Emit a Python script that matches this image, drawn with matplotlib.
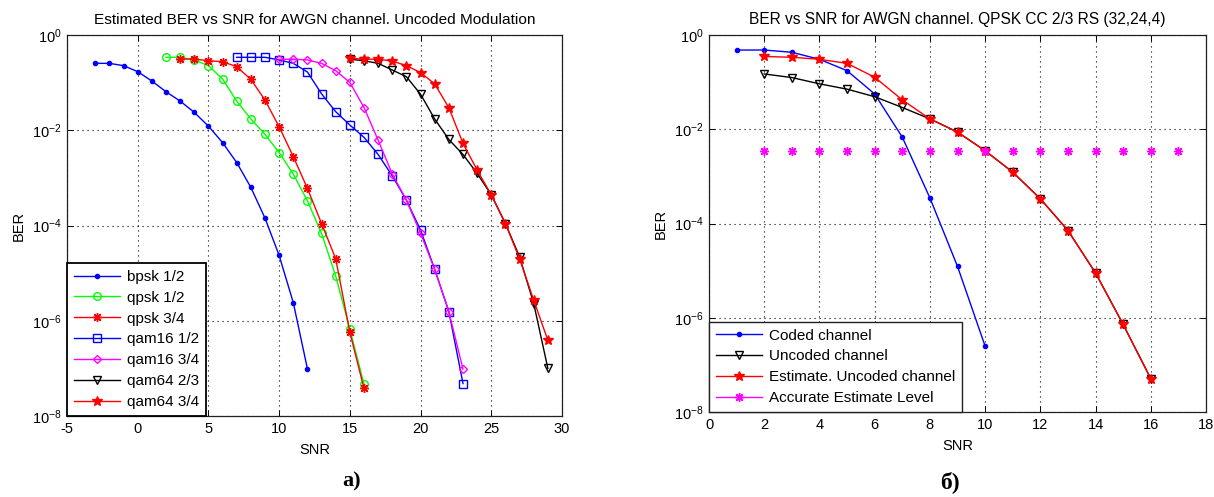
import numpy as np
import matplotlib
matplotlib.use('Agg')
import matplotlib.pyplot as plt
from matplotlib.lines import Line2D
from matplotlib.ticker import FixedLocator, FuncFormatter, NullLocator

plt.rcParams['font.family'] = ['Liberation Sans', 'DejaVu Sans']
plt.rcParams['mathtext.fontset'] = 'custom'
plt.rcParams['mathtext.rm'] = 'Liberation Sans'
plt.rcParams['mathtext.it'] = 'Liberation Sans'
plt.rcParams['mathtext.default'] = 'regular'
plt.rcParams['axes.unicode_minus'] = False

# ---- panel a): uncoded modulation ----
snr_bpsk12 = [-3, -2, -1, 0, 1, 2, 3, 4, 5, 6, 7, 8, 9, 10, 11, 12]
ber_bpsk12 = [0.254, 0.254, 0.227, 0.17, 0.108, 0.0645, 0.041, 0.0237, 0.0122,
              0.0055, 0.0021, 6.3e-4, 1.43e-4, 2.35e-5, 2.4e-6, 9.8e-8]

snr_qpsk12 = [2, 3, 4, 5, 6, 7, 8, 9, 10, 11, 12, 13, 14, 15, 16]
ber_qpsk12 = [0.34, 0.34, 0.30, 0.227, 0.119, 0.041, 0.0172, 0.0082, 0.0034,
              0.0012, 3.3e-4, 6.8e-5, 8.7e-6, 6.6e-7, 4.7e-8]

snr_qpsk34 = [3, 4, 5, 6, 7, 8, 9, 10, 11, 12, 13, 14, 15, 16]
ber_qpsk34 = [0.313, 0.313, 0.288, 0.275, 0.216, 0.117, 0.043, 0.0118, 0.0028,
              6.0e-4, 1.1e-4, 2.0e-5, 5.7e-7, 3.8e-8]

snr_qam16_12 = [7, 8, 9, 10, 11, 12, 13, 14, 15, 16, 17, 18, 19, 20, 21, 22, 23]
ber_qam16_12 = [0.34, 0.34, 0.34, 0.30, 0.254, 0.167, 0.058, 0.0245, 0.0129,
                0.0071, 0.0031, 0.0011, 3.4e-4, 8.0e-5, 1.2e-5, 1.55e-6, 4.8e-8]

snr_qam16_34 = [10, 11, 12, 13, 14, 15, 16, 17, 18, 19, 20, 21, 22, 23]
ber_qam16_34 = [0.31, 0.31, 0.30, 0.254, 0.178, 0.101, 0.030, 0.0062, 0.0012,
                3.4e-4, 6.8e-5, 1.2e-5, 1.55e-6, 9.6e-8]

snr_qam64_23 = [15, 16, 17, 18, 19, 20, 21, 22, 23, 24, 25, 26, 27, 28, 29]
ber_qam64_23 = [0.31, 0.288, 0.254, 0.184, 0.133, 0.057, 0.0172, 0.0064, 0.0031,
                0.00124, 4.4e-4, 1.1e-4, 2.2e-5, 2.3e-6, 1.0e-7]

snr_qam64_34 = [15, 16, 17, 18, 19, 20, 21, 22, 23, 24, 25, 26, 27, 28, 29]
ber_qam64_34 = [0.324, 0.31, 0.31, 0.284, 0.227, 0.162, 0.094, 0.0297, 0.0053,
                0.00146, 4.4e-4, 1.1e-4, 2.0e-5, 2.7e-6, 3.9e-7]

# ---- panel б): QPSK CC 2/3 RS(32,24,4) ----
snr_coded = [1, 2, 3, 4, 5, 6, 7, 8, 9, 10]
ber_coded = [0.48, 0.48, 0.43, 0.305, 0.175, 0.056, 0.0068, 3.5e-4, 1.23e-5, 2.5e-7]

snr_uncoded = [2, 3, 4, 5, 6, 7, 8, 9, 10, 11, 12, 13, 14, 15, 16]
ber_uncoded = [0.149, 0.125, 0.092, 0.071, 0.049, 0.029, 0.0166, 0.0087, 0.0035,
               0.00123, 3.35e-4, 7.1e-5, 8.9e-6, 7.2e-7, 5.1e-8]

snr_estimate = [2, 3, 4, 5, 6, 7, 8, 9, 10, 11, 12, 13, 14, 15, 16]
ber_estimate = [0.35, 0.337, 0.305, 0.25, 0.127, 0.042, 0.0166, 0.0087, 0.0035,
                0.00123, 3.35e-4, 7.1e-5, 8.9e-6, 7.2e-7, 5.1e-8]

snr_level = [2, 3, 4, 5, 6, 7, 8, 9, 10, 11, 12, 13, 14, 15, 16, 17]
ber_level = [0.0035] * 16

yticks = [1, 1e-2, 1e-4, 1e-6, 1e-8]
asterisk = (8, 2, 0)


def style_axes(ax, xticks, xlim):
    ax.set_yscale('log')
    ax.set_ylim(1e-8, 1)
    ax.set_xlim(*xlim)
    ax.xaxis.set_major_locator(FixedLocator(xticks))
    ax.yaxis.set_major_locator(FixedLocator(yticks))
    ax.yaxis.set_minor_locator(NullLocator())
    ax.yaxis.set_major_formatter(
        FuncFormatter(lambda v, p: '$10^{%d}$' % int(round(np.log10(v)))))
    ax.grid(True, color='k', ls=(0, (1, 3.5)), lw=0.8)
    ax.tick_params(direction='in', top=True, right=True, length=4, width=0.7,
                   labelsize=10.5, pad=4)
    for s in ax.spines.values():
        s.set_linewidth(0.9)
        s.set_color('#202020')
    ax.set_xlabel('SNR', fontsize=10.5, labelpad=5)
    ax.set_ylabel('BER', fontsize=10.5, labelpad=4)


fig = plt.figure(figsize=(12.14, 4.97), dpi=100)

# panel a
ax1 = fig.add_axes([67 / 1214, 1 - 416 / 497, 495 / 1214, 381 / 497])
ax1.plot(snr_bpsk12, ber_bpsk12, '-', color='b', lw=1, marker='.', ms=6, label='bpsk 1/2')
ax1.plot(snr_qpsk12, ber_qpsk12, '-', color='#00ff00', lw=1, marker='o', ms=5.5,
         mfc='none', label='qpsk 1/2')
ax1.plot(snr_qpsk34, ber_qpsk34, '-', color='r', lw=1, marker=asterisk, ms=6.5,
         mew=1.0, label='qpsk 3/4')
ax1.plot(snr_qam16_12, ber_qam16_12, '-', color='b', lw=1, marker='s', ms=6,
         mfc='none', label='qam16 1/2')
ax1.plot(snr_qam16_34, ber_qam16_34, '-', color='#ff00ff', lw=1, marker='D', ms=4.5,
         mfc='none', label='qam16 3/4')
ax1.plot(snr_qam64_23, ber_qam64_23, '-', color='k', lw=1, marker='v', ms=5.5,
         mfc='none', label='qam64 2/3')
ax1.plot(snr_qam64_34, ber_qam64_34, '-', color='r', lw=1, marker='*', ms=7,
         label='qam64 3/4')
style_axes(ax1, [-5, 0, 5, 10, 15, 20, 25, 30], (-5, 30))
ax1.set_title('Estimated BER vs SNR for AWGN channel. Uncoded Modulation',
              fontsize=11.1, pad=8)
leg1 = ax1.legend(loc='lower left', bbox_to_anchor=(0, 0), borderaxespad=0,
                  fancybox=False, edgecolor='k', framealpha=1, fontsize=11,
                  handlelength=3.0, labelspacing=0.45, borderpad=0.45,
                  handletextpad=0.45, numpoints=1)
leg1.get_frame().set_linewidth(1.3)

# panel б
ax2 = fig.add_axes([709 / 1214, 1 - 412 / 497, 497 / 1214, 377 / 497])
ax2.plot(snr_coded, ber_coded, '-', color='b', lw=1, marker='.', ms=6)
ax2.plot(snr_uncoded, ber_uncoded, '-', color='k', lw=1, marker='v', ms=5.5, mfc='none')
ax2.plot(snr_estimate, ber_estimate, '-', color='r', lw=1, marker='*', ms=7)
ax2.plot(snr_level, ber_level, ls='none', color='#ff00ff', marker=asterisk, ms=6.5, mew=1.0)
style_axes(ax2, [0, 2, 4, 6, 8, 10, 12, 14, 16, 18], (0, 18))
ax2.set_title('BER vs SNR for AWGN channel. QPSK CC 2/3 RS (32,24,4)',
              fontsize=11.2, pad=8)
handles2 = [
    Line2D([], [], color='b', lw=1, marker='.', ms=6),
    Line2D([], [], color='k', lw=1, marker='v', ms=5.5, mfc='none'),
    Line2D([], [], color='r', lw=1, marker='*', ms=7),
    Line2D([], [], color='#ff00ff', lw=1, marker=asterisk, ms=6.5, mew=1.0),
]
labels2 = ['Coded channel', 'Uncoded channel', 'Estimate. Uncoded channel',
           'Accurate Estimate Level']
leg2 = ax2.legend(handles2, labels2, loc='lower left', bbox_to_anchor=(0, 0),
                  borderaxespad=0, fancybox=False, edgecolor='#202020',
                  framealpha=1, fontsize=11, handlelength=3.0,
                  labelspacing=0.45, borderpad=0.45, handletextpad=0.5, numpoints=1)
leg2.get_frame().set_linewidth(1.0)

fig.text(352 / 1214, 1 - 481 / 497, 'а)', ha='center', va='center',
         fontsize=16, fontweight='bold', family='Liberation Serif')
fig.text(950 / 1214, 1 - 482 / 497, 'б)', ha='center', va='center',
         fontsize=17, fontweight='bold', family='Liberation Serif')

fig.savefig('out.png', dpi=100)
